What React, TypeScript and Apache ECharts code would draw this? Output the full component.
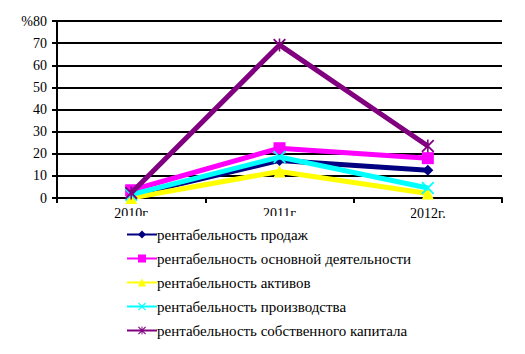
import React, { useEffect, useRef } from "react";
import * as echarts from "echarts";

const categories = ["2010г", "2011г", "2012г."];
const seriesNames = [
  "рентабельность продаж",
  "рентабельность основной деятельности",
  "рентабельность активов",
  "рентабельность производства",
  "рентабельность собственного капитала",
];
const salesValues = [1.2, 17, 12.5];
const mainActivityValues = [3.5, 22.5, 18];
const assetsValues = [0, 12, 2];
const productionValues = [1.5, 18.5, 4.5];
const equityValues = [2.3, 69.2, 23.5];
const yTicks = [0, 10, 20, 30, 40, 50, 60, 70, 80];

const colors = ["#000080", "#FF00FF", "#FFFF00", "#00FFFF", "#800080"];
const crossPath =
  "path://M0,1 L1,0 L10,9 L9,10 Z M9,0 L10,1 L1,10 L0,9 Z";
const starPath =
  "path://M0,1 L1,0 L10,9 L9,10 Z M9,0 L10,1 L1,10 L0,9 Z M4.4,0 L5.6,0 L5.6,10 L4.4,10 Z";
const symbols = ["diamond", "rect", "triangle", crossPath, starPath];
const symbolSizes = [11, 12, 12, 13, 13];

export default function App() {
  const ref = useRef<HTMLDivElement>(null);
  useEffect(() => {
    if (!ref.current) return;
    const chart = echarts.init(ref.current, null, { renderer: "svg" });
    const data = [salesValues, mainActivityValues, assetsValues, productionValues, equityValues];
    const font = "Liberation Serif";
    chart.setOption({
      animation: false,
      textStyle: { fontFamily: font },
      grid: { left: 57, right: 23, top: 21, bottom: 156, containLabel: false },
      xAxis: {
        type: "category",
        data: categories,
        boundaryGap: true,
        axisLine: { lineStyle: { color: "#000", width: 2 } },
        axisTick: { show: true, length: 5, lineStyle: { color: "#000", width: 2 } },
        axisLabel: { color: "#000", fontSize: 14, fontFamily: font, margin: 8 },
        splitLine: { show: false },
      },
      yAxis: {
        type: "value",
        min: 0,
        max: 80,
        interval: 10,
        axisLine: { show: true, lineStyle: { color: "#000", width: 2 } },
        axisTick: { show: true, length: 5, lineStyle: { color: "#000", width: 2 } },
        axisLabel: {
          color: "#000",
          fontSize: 14,
          fontFamily: font,
          margin: 10,
          formatter: (v: number) => (v === yTicks[yTicks.length - 1] ? "%" + v : String(v)),
        },
        splitLine: { show: true, lineStyle: { color: "#000", width: 2 } },
      },
      legend: {
        orient: "vertical",
        left: 122,
        top: 216,
        padding: [11, 0, 2, 4],
        backgroundColor: "#fff",
        itemWidth: 30,
        itemHeight: 10,
        itemGap: 9,
        textStyle: { color: "#000", fontSize: 15, fontFamily: font, padding: [0, 0, 0, -5] },
        data: seriesNames,
      },
      series: seriesNames.map((name, i) => ({
        name,
        type: "line",
        data: data[i],
        symbol: symbols[i],
        symbolSize: symbolSizes[i],
        showSymbol: true,
        lineStyle: { color: colors[i], width: 5 },
        itemStyle: { color: colors[i] },
        z: 2 + i,
      })),
    });
    return () => chart.dispose();
  }, []);
  return <div ref={ref} style={{ width: 525, height: 354, margin: -8 }} />;
}
